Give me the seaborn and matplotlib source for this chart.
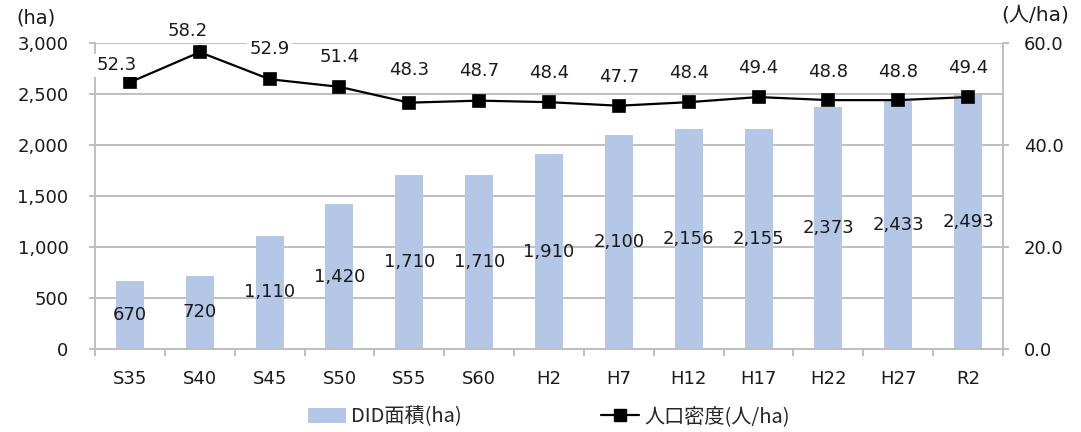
import numpy as np
import pandas as pd
import matplotlib
matplotlib.use("Agg")
import matplotlib.pyplot as plt
import seaborn as sns
from matplotlib.patches import Patch
from matplotlib.lines import Line2D
from matplotlib.ticker import FuncFormatter, MultipleLocator, FixedLocator

# Survey years and values
years = ["S35", "S40", "S45", "S50", "S55", "S60", "H2", "H7", "H12", "H17", "H22", "H27", "R2"]
did_area = [670, 720, 1110, 1420, 1710, 1710, 1910, 2100, 2156, 2155, 2373, 2433, 2493]
pop_density = [52.3, 58.2, 52.9, 51.4, 48.3, 48.7, 48.4, 47.7, 48.4, 49.4, 48.8, 48.8, 49.4]

# Label placement above each marker (pixels: dx, dy)
label_dx = [-13, -12, 0, 0, 0, 0, 0, 0, 0, 0, 0, 0, 0]
label_dy = [17, 21, 30, 30, 33, 30, 29, 29, 29, 29, 28, 28, 29]

sns.set_theme(style="white")
plt.rcParams["font.family"] = ["DejaVu Sans", "Noto Sans CJK JP"]
plt.rcParams["font.size"] = 13

BAR = "#B4C7E7"
GRID = "#BFBFBF"
TXT = "#1a1a1a"

df = pd.DataFrame({"year": years, "area": did_area, "density": pop_density})

fig = plt.figure(figsize=(10.81, 4.32), dpi=100)
W, H = 1081, 432
ax = fig.add_axes([95 / W, 1 - 349 / H, (1003 - 95) / W, (349 - 43) / H])

sns.barplot(data=df, x="year", y="area", color=BAR, width=0.4, ax=ax,
            saturation=1, linewidth=0, edgecolor="none", zorder=2)
ax.set_ylim(0, 3000)
ax.set_xlim(-0.5, len(years) - 0.5)
ax.yaxis.set_major_locator(MultipleLocator(500))
ax.yaxis.set_major_formatter(FuncFormatter(lambda v, p: f"{int(v):,}"))
ax.grid(axis="y", color=GRID, linewidth=1.4, zorder=0)
ax.grid(axis="x", visible=False)
ax.set_axisbelow(True)
ax.set_xlabel("")
ax.set_ylabel("")

for c in ax.containers:
    ax.bar_label(c, labels=[f"{v:,}" for v in did_area], label_type="center",
                 fontsize=13, color=TXT)

for s in ["top", "right"]:
    ax.spines[s].set_visible(False)
for s in ["left", "bottom"]:
    ax.spines[s].set_color(GRID)
    ax.spines[s].set_linewidth(1.4)

ax.tick_params(axis="y", which="major", left=True, length=4, width=1.4, color=GRID,
               pad=15, labelsize=13, labelcolor=TXT)
ax.xaxis.set_minor_locator(FixedLocator(np.arange(-0.5, len(years), 1.0)))
ax.tick_params(axis="x", which="minor", bottom=True, length=5, width=1.4, color=GRID)
ax.tick_params(axis="x", which="major", bottom=False, length=0, pad=15,
               labelsize=13, labelcolor=TXT)

ax2 = ax.twinx()
sns.pointplot(data=df, x="year", y="density", color="black", markers="s",
              linestyles="-", ax=ax2, markersize=8, linewidth=1.6, zorder=5)
ax2.set_ylim(0, 60)
ax2.set_xlim(-0.5, len(years) - 0.5)
ax2.yaxis.set_major_locator(MultipleLocator(20))
ax2.yaxis.set_major_formatter(FuncFormatter(lambda v, p: f"{v:.1f}"))
ax2.grid(False)
ax2.set_xlabel("")
ax2.set_ylabel("")
for s in ["top", "left", "bottom"]:
    ax2.spines[s].set_visible(False)
ax2.spines["right"].set_color(GRID)
ax2.spines["right"].set_linewidth(1.4)
ax2.tick_params(axis="y", right=True, length=4, width=1.4, color=GRID, pad=11,
                labelsize=13, labelcolor=TXT)

px = 72 / 100
for i, v in enumerate(pop_density):
    ax2.annotate(f"{v:.1f}", xy=(i, v), xytext=(label_dx[i] * px, label_dy[i] * px),
                 textcoords="offset points", ha="center", va="center",
                 fontsize=13, color=TXT, zorder=6,
                 bbox=dict(boxstyle="square,pad=0.15", fc="white", ec="none"))

fig.text(36 / W, 1 - 18 / H, "(ha)", ha="center", va="center", fontsize=14, color=TXT)
fig.text(1035 / W, 1 - 15 / H, "(人/ha)", ha="center", va="center", fontsize=14.5,
         color=TXT)

handles = [
    Patch(facecolor=BAR, edgecolor="none", label="DID面積(ha)"),
    Line2D([0], [0], color="black", lw=1.6, marker="s", markersize=8,
           label="人口密度(人/ha)"),
]
fig.legend(handles=handles, loc="center", bbox_to_anchor=(549 / W, 1 - 417 / H),
           ncol=2, frameon=False, handlelength=1.9, handletextpad=0.25,
           columnspacing=6.9, prop={"family": ["Noto Sans CJK JP"], "size": 14.5})

fig.savefig("out.png", dpi=100)
